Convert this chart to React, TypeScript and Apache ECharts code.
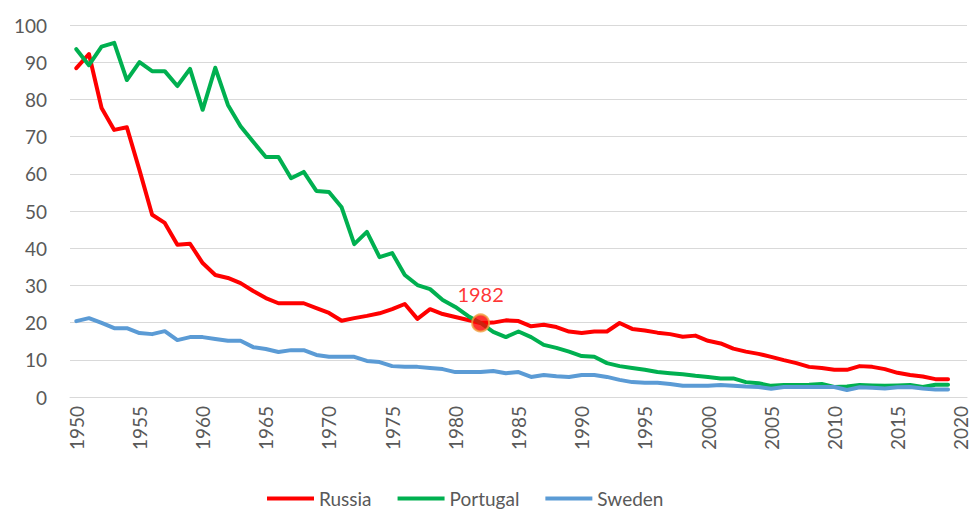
import React, { useEffect, useRef } from "react";
import * as echarts from "echarts";

const years: string[] = [];
for (let y = 1950; y <= 2020; y++) years.push(String(y));

const russia = [
  88.4, 92.2, 77.7, 71.8, 72.5, 61.0, 49.0, 46.8, 40.9, 41.2,
  36.0, 32.8, 32.0, 30.6, 28.5, 26.6, 25.2, 25.2, 25.2, 23.9,
  22.6, 20.5, 21.2, 21.8, 22.5, 23.6, 25.0, 21.0, 23.6, 22.3,
  21.5, 20.7, 19.9, 20.0, 20.6, 20.4, 19.0, 19.4, 18.8, 17.6,
  17.2, 17.6, 17.6, 19.9, 18.3, 17.9, 17.3, 16.9, 16.2, 16.5,
  15.1, 14.4, 13.0, 12.2, 11.6, 10.8, 9.9, 9.1, 8.1, 7.8,
  7.3, 7.3, 8.3, 8.1, 7.5, 6.5, 5.9, 5.5, 4.8, 4.8,
];

const portugal = [
  93.5, 89.2, 94.2, 95.2, 85.2, 90.0, 87.6, 87.6, 83.6, 88.2,
  77.2, 88.5, 78.5, 72.8, 68.6, 64.5, 64.5, 58.8, 60.5, 55.4,
  55.1, 51.0, 41.1, 44.4, 37.6, 38.7, 32.8, 30.1, 29.0, 26.1,
  24.2, 21.8, 19.9, 17.5, 16.1, 17.6, 16.1, 14.0, 13.2, 12.2,
  11.0, 10.8, 9.1, 8.3, 7.8, 7.3, 6.7, 6.4, 6.1, 5.7,
  5.4, 5.0, 5.0, 4.0, 3.7, 3.0, 3.2, 3.2, 3.3, 3.5,
  2.7, 2.8, 3.2, 3.1, 3.0, 3.1, 3.2, 2.7, 3.3, 3.3,
];

const sweden = [
  20.4, 21.2, 19.9, 18.5, 18.5, 17.2, 16.9, 17.7, 15.3, 16.1,
  16.1, 15.6, 15.1, 15.1, 13.4, 12.9, 12.1, 12.6, 12.6, 11.3,
  10.8, 10.8, 10.8, 9.7, 9.4, 8.3, 8.1, 8.1, 7.8, 7.5,
  6.7, 6.7, 6.7, 7.0, 6.4, 6.7, 5.4, 5.9, 5.6, 5.4,
  5.9, 5.9, 5.4, 4.6, 4.0, 3.8, 3.8, 3.5, 3.0, 3.0,
  3.0, 3.2, 3.0, 2.8, 2.7, 2.2, 2.7, 2.7, 2.7, 2.7,
  2.7, 1.9, 2.6, 2.5, 2.3, 2.6, 2.7, 2.3, 2.0, 2.0,
];

const highlightYear = "1982";

const FONT = "Lato, 'Open Sans', sans-serif";
const GRAY = "#595959";

export default function App() {
  const ref = useRef<HTMLDivElement>(null);
  useEffect(() => {
    document.body.style.margin = "0";
    if (!ref.current) return;
    const chart = echarts.init(ref.current, undefined, { renderer: "svg" });
    const hi = years.indexOf(highlightYear);
    const lineSeries = (name: string, data: number[], color: string) => ({
      name,
      type: "line",
      data,
      showSymbol: false,
      symbol: "none",
      color,
      lineStyle: { color, width: 4, join: "round", cap: "round" },
      z: 2,
    });
    chart.setOption({
      animation: false,
      textStyle: { fontFamily: FONT },
      grid: { left: 70, right: 11, top: 25, bottom: 114, containLabel: false },
      legend: {
        data: ["Russia", "Portugal", "Sweden"],
        top: 484,
        left: 262,
        icon: "rect",
        itemWidth: 47,
        itemHeight: 4,
        itemGap: 26,
        textStyle: { fontSize: 19, color: GRAY, fontFamily: FONT },
      },
      xAxis: {
        type: "category",
        data: years,
        boundaryGap: true,
        axisTick: { show: false },
        axisLine: { lineStyle: { color: "#D9D9D9", width: 1 } },
        axisLabel: {
          interval: 4,
          rotate: 90,
          margin: 9,
          fontSize: 19,
          color: GRAY,
          fontFamily: FONT,
        },
        splitLine: { show: false },
      },
      yAxis: {
        type: "value",
        min: 0,
        max: 100,
        interval: 10,
        axisLine: { show: false },
        axisTick: { show: false },
        axisLabel: { fontSize: 19, color: GRAY, margin: 23, fontFamily: FONT },
        splitLine: { lineStyle: { color: "#D9D9D9", width: 1 } },
      },
      series: [
        lineSeries("Russia", russia, "#FF0000"),
        lineSeries("Portugal", portugal, "#00B050"),
        lineSeries("Sweden", sweden, "#5B9BD5"),
        {
          name: "highlight",
          type: "scatter",
          data: [[highlightYear, russia[hi]]],
          symbol: "circle",
          symbolSize: 17,
          itemStyle: { color: "#FF0000", borderColor: "#F0A040", borderWidth: 2 },
          label: {
            show: true,
            position: "top",
            distance: 9,
            formatter: () => highlightYear,
            color: "#FF0000",
            fontSize: 20,
            fontFamily: FONT,
          },
          z: 5,
        },
      ],
    });
    return () => chart.dispose();
  }, []);
  return <div ref={ref} style={{ width: 978, height: 511 }} />;
}
